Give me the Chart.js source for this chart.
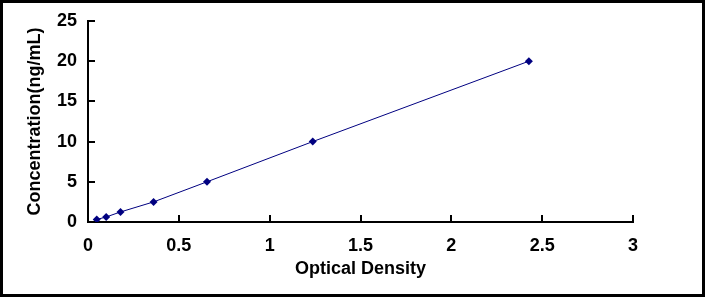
<!DOCTYPE html>
<html>
<head>
<meta charset="utf-8">
<script src="https://cdn.jsdelivr.net/npm/chart.js@4/dist/chart.umd.min.js"></script>
<style>
  html, body { margin: 0; padding: 0; background: #fff; }
  #wrap { width: 705px; height: 297px; box-sizing: border-box; border: 3px solid #000; background: #fff; }
  #c { display: block; }
</style>
</head>
<body>
<div id="wrap"><canvas id="c" width="699" height="291"></canvas></div>
<script>
const odValues = [0.048, 0.100, 0.179, 0.361, 0.655, 1.237, 2.427];
const concValues = [0.312, 0.625, 1.25, 2.5, 5, 10, 20];
const xTicks = [0, 0.5, 1, 1.5, 2, 2.5, 3];
const yTicks = [0, 5, 10, 15, 20, 25];
const xTitle = 'Optical Density';
const yTitle = 'Concentration(ng/mL)';

const points = odValues.map((x, i) => ({ x: x, y: concValues[i] }));
const navy = '#000080';
const FAMILY = "'Liberation Sans', Arial, sans-serif";
const mkFont = () => ({ family: FAMILY, size: 18, weight: 'bold', lineHeight: 1.2 });

const innerTicks = {
  id: 'innerTicks',
  afterDraw(chart) {
    const ctx = chart.ctx;
    const xs = chart.scales.x, ys = chart.scales.y;
    ctx.save();
    ctx.strokeStyle = '#000';
    ctx.lineWidth = 2;
    ctx.beginPath();
    xTicks.forEach(v => {
      const px = Math.round(xs.getPixelForValue(v));
      ctx.moveTo(px, ys.bottom);
      ctx.lineTo(px, ys.bottom - 7);
    });
    yTicks.forEach(v => {
      const py = Math.round(ys.getPixelForValue(v));
      ctx.moveTo(xs.left, py);
      ctx.lineTo(xs.left + 7, py);
    });
    ctx.stroke();
    ctx.restore();
  }
};

new Chart(document.getElementById('c'), {
  type: 'scatter',
  data: {
    datasets: [{
      data: points,
      showLine: true,
      borderColor: navy,
      borderWidth: 1,
      backgroundColor: navy,
      pointStyle: 'rectRot',
      pointRadius: 4,
      pointBorderWidth: 0,
      pointBackgroundColor: navy,
      pointBorderColor: navy
    }]
  },
  options: {
    responsive: false,
    animation: false,
    layout: { padding: { top: 18, right: 69, left: 0, bottom: 0 } },
    plugins: { legend: { display: false }, tooltip: { enabled: false } },
    scales: {
      x: {
        type: 'linear',
        min: 0, max: 3,
        afterBuildTicks: s => { s.ticks = xTicks.map(v => ({ value: v })); },
        afterFit: s => { s.height = 72; s.paddingLeft = 0; s.paddingRight = 0; },
        grid: { display: false, drawTicks: false },
        border: { display: true, color: '#000', width: 2 },
        ticks: { color: '#000', font: mkFont, padding: 13, maxRotation: 0,
          callback: v => String(v) },
        title: { display: true, text: xTitle, color: '#000', font: mkFont, padding: { top: 0, bottom: 14 } }
      },
      y: {
        type: 'linear',
        min: 0, max: 25,
        afterBuildTicks: s => { s.ticks = yTicks.map(v => ({ value: v })); },
        afterFit: s => { s.width = 85; s.paddingTop = 0; s.paddingBottom = 0; },
        grid: { display: false, drawTicks: false },
        border: { display: true, color: '#000', width: 2 },
        ticks: { color: '#000', font: mkFont, padding: 11, callback: v => String(v) },
        title: { display: true, text: yTitle, color: '#000', font: mkFont, padding: { top: 21, bottom: 0 } }
      }
    }
  },
  plugins: [innerTicks]
});
</script>
</body>
</html>
